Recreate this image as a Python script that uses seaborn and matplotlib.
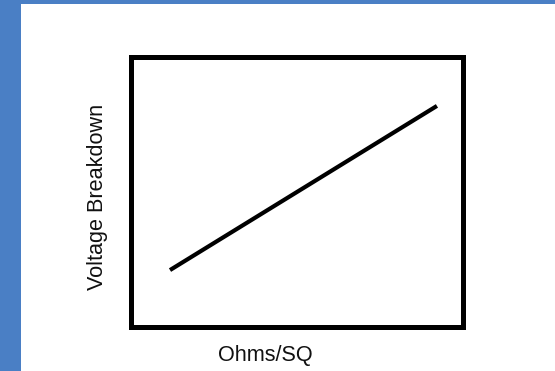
import matplotlib
matplotlib.use("Agg")
import matplotlib.pyplot as plt
from matplotlib.patches import Rectangle
import seaborn as sns
import pandas as pd

# Data (conceptual: breakdown voltage rises linearly with sheet resistance)
ohms_per_sq = [0.119, 0.923]
voltage_breakdown = [0.209, 0.817]
x_label = "Ohms/SQ"
y_label = "Voltage Breakdown"

df = pd.DataFrame({"ohms": ohms_per_sq, "voltage": voltage_breakdown})

sns.set_style("white")
plt.rcParams["font.family"] = ["Liberation Sans", "DejaVu Sans"]

W, H = 555, 371
fig = plt.figure(figsize=(W / 100, H / 100), dpi=100)
fig.patch.set_facecolor("white")

# blue frame (left band and top band)
blue = "#4a7fc5"
fig.patches.append(Rectangle((0, 0), 21 / W, 1, transform=fig.transFigure,
                             facecolor=blue, edgecolor="none", zorder=0))
fig.patches.append(Rectangle((0, 1 - 4 / H), 1, 4 / H, transform=fig.transFigure,
                             facecolor=blue, edgecolor="none", zorder=0))

left, right = 130.5, 462.5
top, bottom = 56.5, 326.5
ax = fig.add_axes([left / W, 1 - bottom / H, (right - left) / W, (bottom - top) / H])

sns.lineplot(data=df, x="ohms", y="voltage", ax=ax, color="black",
             linewidth=3.0, solid_capstyle="butt")

ax.set_xlim(0, 1)
ax.set_ylim(0, 1)
ax.set_xticks([])
ax.set_yticks([])
for s in ax.spines.values():
    s.set_visible(True)
    s.set_color("black")
    s.set_linewidth(3.6)

ax.set_xlabel(x_label, fontsize=15.6, color="#111111")
ax.set_ylabel(y_label, fontsize=15.6, color="#111111")
ax.xaxis.label.set_va("center")
ax.yaxis.label.set_va("center")
ax.xaxis.set_label_coords((265.5 - left) / (right - left), (bottom - 355) / (bottom - top))
ax.yaxis.set_label_coords((97 - left) / (right - left), (bottom - 196.5) / (bottom - top))

fig.savefig("out.png", dpi=100)
